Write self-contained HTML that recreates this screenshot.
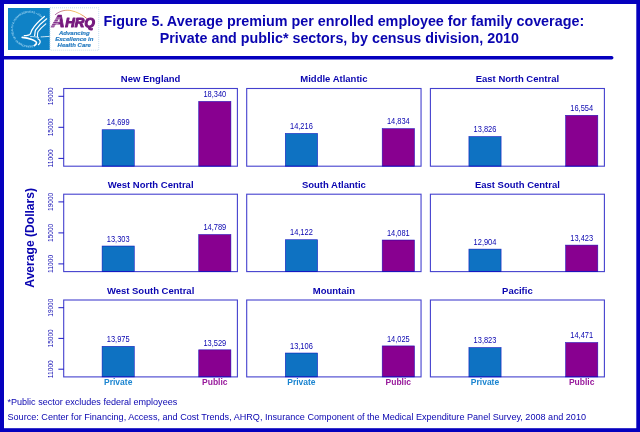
<!DOCTYPE html>
<html lang="en"><head><meta charset="utf-8"><title>Figure 5. Average premium per enrolled employee for family coverage</title>
<style>html,body{margin:0;padding:0;background:#fff;}body{width:640px;height:432px;overflow:hidden;}svg{display:block;font-family:"Liberation Sans",sans-serif;}</style>
</head><body>
<svg width="640" height="432" viewBox="0 0 640 432">
<rect x="0" y="0" width="640" height="432" fill="#0500BE"/>
<rect x="4" y="4" width="632.3" height="424.2" fill="#fff"/>
<path d="M3 56 H611.7 A1.75 1.75 0 0 1 611.7 59.5 H3 Z" fill="#0500BE"/>
<rect x="8" y="8" width="41.8" height="42" fill="#0F82C6"/>
<rect x="50" y="7.8" width="48.7" height="42.4" fill="#fff" stroke="#9CC4E4" stroke-width="0.6" stroke-dasharray="1 1"/>
<g fill="none" stroke="#fff" stroke-linecap="round" stroke-linejoin="round">
<path d="M44.4 16.5 C39.5 20.5 34.5 25.5 32 29.9 C30.8 32 31 33.5 29.8 34.6 C28.5 35.6 26.5 35.4 24.3 35.7" stroke-width="1.3"/>
<path d="M46.7 18.8 C42.5 22 38 26.5 35.7 29.9 C34.6 31.8 35.2 33.6 34.6 35.6" stroke-width="1.25"/>
<path d="M45.8 23.9 C43 26.2 39.8 29.2 38 31.8 C37.2 33.4 37.7 35.2 37.4 36.9" stroke-width="1.1"/>
<path d="M22.2 37.4 C25.5 37.6 29 38.4 31.9 39.6 C34.5 40.6 36.4 41.6 36.5 42.8 C36.6 44 35.4 45 34.2 45.7" stroke-width="1.65"/>
<path d="M37.9 38.7 C39.4 39.6 40.4 40.8 40.2 42 C40 43.2 39.2 44.1 38.4 44.7" stroke-width="1.25"/>
<path d="M41.1 36.9 C43.5 36.8 46 36.6 49.2 36.4" stroke-width="0.8"/>
<path d="M30.5 36.6 C33 36.4 36 37 38.6 37.4" stroke-width="0.8"/>
</g>
<path id="ring" d="M32.9 45.2 A16.4 16.4 0 1 1 41.7 18.2" fill="none"/>
<text font-size="2.8" font-weight="bold" fill="#9AD2F0"><textPath href="#ring" textLength="68" lengthAdjust="spacing">DEPARTMENT OF HEALTH &amp; HUMAN SERVICES • USA</textPath></text>
<defs><linearGradient id="arc" x1="0" x2="1" y1="0" y2="0"><stop offset="0" stop-color="#8A2A8C"/><stop offset="0.45" stop-color="#E89A3A"/><stop offset="0.75" stop-color="#F0C030"/><stop offset="1" stop-color="#D03030"/></linearGradient></defs>
<path d="M55.1 14.8 C60 10.6 66 9.6 71 10.6 C77 11.8 82.5 14.8 86.9 18.6" fill="none" stroke="url(#arc)" stroke-width="0.75"/>
<text x="51.6" y="27.4" font-weight="bold" font-style="italic" fill="#761A7E" stroke="#761A7E" stroke-width="0.75" stroke-linejoin="round"><tspan font-size="17" textLength="13.4" lengthAdjust="spacingAndGlyphs">A</tspan><tspan font-size="12.4" dx="0.3" stroke-width="1.05" textLength="29.4" lengthAdjust="spacingAndGlyphs">HRQ</tspan></text>
<g stroke="#fff" stroke-width="0.55"><path d="M50.6 18.0H60.6M50.6 19.8H59.9M50.6 21.6H59.2M50.6 23.4H58.5M50.6 25.2H57.6M50.6 27H56.8"/></g>
<text x="74.3" y="35.1" font-size="6" font-weight="bold" font-style="italic" fill="#2A7EC2" stroke="#2A7EC2" stroke-width="0.2" text-anchor="middle">Advancing</text>
<text x="74.3" y="41.2" font-size="6" font-weight="bold" font-style="italic" fill="#2A7EC2" stroke="#2A7EC2" stroke-width="0.2" text-anchor="middle">Excellence in</text>
<text x="74.3" y="46.8" font-size="6" font-weight="bold" font-style="italic" fill="#2A7EC2" stroke="#2A7EC2" stroke-width="0.2" text-anchor="middle">Health Care</text>
<text x="103.6" y="25.6" font-size="14.3" font-weight="bold" fill="#0A05B0" textLength="480.6" lengthAdjust="spacingAndGlyphs">Figure 5. Average premium per enrolled employee for family coverage:</text>
<text x="159.75" y="42.6" font-size="14.3" font-weight="bold" fill="#0A05B0" textLength="359.25" lengthAdjust="spacingAndGlyphs">Private and public* sectors, by census division, 2010</text>
<text x="150.6" y="82.3" font-size="9.9" font-weight="bold" fill="#0A05B0" text-anchor="middle" textLength="59.6" lengthAdjust="spacingAndGlyphs">New England</text>
<rect x="102.1" y="129.7" width="32.2" height="36.5" fill="#0E72C2" stroke="#0500BE" stroke-width="0.6" stroke-opacity="0.8"/>
<text x="118.2" y="125.4" font-size="8.5" fill="#0A05B0" text-anchor="middle" textLength="22.8" lengthAdjust="spacingAndGlyphs">14,699</text>
<rect x="198.7" y="101.4" width="32.2" height="64.8" fill="#880090" stroke="#0500BE" stroke-width="0.6" stroke-opacity="0.8"/>
<text x="214.8" y="97.1" font-size="8.5" fill="#0A05B0" text-anchor="middle" textLength="22.8" lengthAdjust="spacingAndGlyphs">18,340</text>
<rect x="63.7" y="88.5" width="173.7" height="77.7" fill="none" stroke="#0500BE" stroke-width="1.1" stroke-opacity="0.75"/>
<path d="M58.4 158.4H63.7" stroke="#0500BE" stroke-width="0.9"/>
<text transform="translate(52.7 158.4) rotate(-90)" font-size="7.6" fill="#0A05B0" text-anchor="middle" textLength="18" lengthAdjust="spacingAndGlyphs">11000</text>
<path d="M58.4 127.3H63.7" stroke="#0500BE" stroke-width="0.9"/>
<text transform="translate(52.7 127.3) rotate(-90)" font-size="7.6" fill="#0A05B0" text-anchor="middle" textLength="18" lengthAdjust="spacingAndGlyphs">15000</text>
<path d="M58.4 96.3H63.7" stroke="#0500BE" stroke-width="0.9"/>
<text transform="translate(52.7 96.3) rotate(-90)" font-size="7.6" fill="#0A05B0" text-anchor="middle" textLength="18" lengthAdjust="spacingAndGlyphs">19000</text>
<text x="333.9" y="82.3" font-size="9.9" font-weight="bold" fill="#0A05B0" text-anchor="middle" textLength="67.2" lengthAdjust="spacingAndGlyphs">Middle Atlantic</text>
<rect x="285.3" y="133.4" width="32.3" height="32.8" fill="#0E72C2" stroke="#0500BE" stroke-width="0.6" stroke-opacity="0.8"/>
<text x="301.4" y="129.1" font-size="8.5" fill="#0A05B0" text-anchor="middle" textLength="22.8" lengthAdjust="spacingAndGlyphs">14,216</text>
<rect x="382.2" y="128.6" width="32.3" height="37.6" fill="#880090" stroke="#0500BE" stroke-width="0.6" stroke-opacity="0.8"/>
<text x="398.3" y="124.3" font-size="8.5" fill="#0A05B0" text-anchor="middle" textLength="22.8" lengthAdjust="spacingAndGlyphs">14,834</text>
<rect x="246.7" y="88.5" width="174.35" height="77.7" fill="none" stroke="#0500BE" stroke-width="1.1" stroke-opacity="0.75"/>
<text x="517.4" y="82.3" font-size="9.9" font-weight="bold" fill="#0A05B0" text-anchor="middle" textLength="83.4" lengthAdjust="spacingAndGlyphs">East North Central</text>
<rect x="468.9" y="136.5" width="32.2" height="29.7" fill="#0E72C2" stroke="#0500BE" stroke-width="0.6" stroke-opacity="0.8"/>
<text x="485.0" y="132.2" font-size="8.5" fill="#0A05B0" text-anchor="middle" textLength="22.8" lengthAdjust="spacingAndGlyphs">13,826</text>
<rect x="565.6" y="115.3" width="32.2" height="50.9" fill="#880090" stroke="#0500BE" stroke-width="0.6" stroke-opacity="0.8"/>
<text x="581.7" y="111.0" font-size="8.5" fill="#0A05B0" text-anchor="middle" textLength="22.8" lengthAdjust="spacingAndGlyphs">16,554</text>
<rect x="430.4" y="88.5" width="174.0" height="77.7" fill="none" stroke="#0500BE" stroke-width="1.1" stroke-opacity="0.75"/>
<text x="150.6" y="188.0" font-size="9.9" font-weight="bold" fill="#0A05B0" text-anchor="middle" textLength="85.9" lengthAdjust="spacingAndGlyphs">West North Central</text>
<rect x="102.1" y="246.0" width="32.2" height="25.6" fill="#0E72C2" stroke="#0500BE" stroke-width="0.6" stroke-opacity="0.8"/>
<text x="118.2" y="241.7" font-size="8.5" fill="#0A05B0" text-anchor="middle" textLength="22.8" lengthAdjust="spacingAndGlyphs">13,303</text>
<rect x="198.7" y="234.5" width="32.2" height="37.1" fill="#880090" stroke="#0500BE" stroke-width="0.6" stroke-opacity="0.8"/>
<text x="214.8" y="230.2" font-size="8.5" fill="#0A05B0" text-anchor="middle" textLength="22.8" lengthAdjust="spacingAndGlyphs">14,789</text>
<rect x="63.7" y="194.2" width="173.7" height="77.4" fill="none" stroke="#0500BE" stroke-width="1.1" stroke-opacity="0.75"/>
<path d="M58.4 263.9H63.7" stroke="#0500BE" stroke-width="0.9"/>
<text transform="translate(52.7 263.9) rotate(-90)" font-size="7.6" fill="#0A05B0" text-anchor="middle" textLength="18" lengthAdjust="spacingAndGlyphs">11000</text>
<path d="M58.4 232.9H63.7" stroke="#0500BE" stroke-width="0.9"/>
<text transform="translate(52.7 232.9) rotate(-90)" font-size="7.6" fill="#0A05B0" text-anchor="middle" textLength="18" lengthAdjust="spacingAndGlyphs">15000</text>
<path d="M58.4 201.9H63.7" stroke="#0500BE" stroke-width="0.9"/>
<text transform="translate(52.7 201.9) rotate(-90)" font-size="7.6" fill="#0A05B0" text-anchor="middle" textLength="18" lengthAdjust="spacingAndGlyphs">19000</text>
<text x="333.9" y="188.0" font-size="9.9" font-weight="bold" fill="#0A05B0" text-anchor="middle" textLength="64.0" lengthAdjust="spacingAndGlyphs">South Atlantic</text>
<rect x="285.3" y="239.7" width="32.3" height="31.9" fill="#0E72C2" stroke="#0500BE" stroke-width="0.6" stroke-opacity="0.8"/>
<text x="301.4" y="235.4" font-size="8.5" fill="#0A05B0" text-anchor="middle" textLength="22.8" lengthAdjust="spacingAndGlyphs">14,122</text>
<rect x="382.2" y="240.0" width="32.3" height="31.6" fill="#880090" stroke="#0500BE" stroke-width="0.6" stroke-opacity="0.8"/>
<text x="398.3" y="235.7" font-size="8.5" fill="#0A05B0" text-anchor="middle" textLength="22.8" lengthAdjust="spacingAndGlyphs">14,081</text>
<rect x="246.7" y="194.2" width="174.35" height="77.4" fill="none" stroke="#0500BE" stroke-width="1.1" stroke-opacity="0.75"/>
<text x="517.4" y="188.0" font-size="9.9" font-weight="bold" fill="#0A05B0" text-anchor="middle" textLength="85.0" lengthAdjust="spacingAndGlyphs">East South Central</text>
<rect x="468.9" y="249.1" width="32.2" height="22.5" fill="#0E72C2" stroke="#0500BE" stroke-width="0.6" stroke-opacity="0.8"/>
<text x="485.0" y="244.8" font-size="8.5" fill="#0A05B0" text-anchor="middle" textLength="22.8" lengthAdjust="spacingAndGlyphs">12,904</text>
<rect x="565.6" y="245.1" width="32.2" height="26.5" fill="#880090" stroke="#0500BE" stroke-width="0.6" stroke-opacity="0.8"/>
<text x="581.7" y="240.8" font-size="8.5" fill="#0A05B0" text-anchor="middle" textLength="22.8" lengthAdjust="spacingAndGlyphs">13,423</text>
<rect x="430.4" y="194.2" width="174.0" height="77.4" fill="none" stroke="#0500BE" stroke-width="1.1" stroke-opacity="0.75"/>
<text x="150.6" y="293.8" font-size="9.9" font-weight="bold" fill="#0A05B0" text-anchor="middle" textLength="87.4" lengthAdjust="spacingAndGlyphs">West South Central</text>
<rect x="102.1" y="346.3" width="32.2" height="30.6" fill="#0E72C2" stroke="#0500BE" stroke-width="0.6" stroke-opacity="0.8"/>
<text x="118.2" y="342.0" font-size="8.5" fill="#0A05B0" text-anchor="middle" textLength="22.8" lengthAdjust="spacingAndGlyphs">13,975</text>
<rect x="198.7" y="349.8" width="32.2" height="27.1" fill="#880090" stroke="#0500BE" stroke-width="0.6" stroke-opacity="0.8"/>
<text x="214.8" y="345.5" font-size="8.5" fill="#0A05B0" text-anchor="middle" textLength="22.8" lengthAdjust="spacingAndGlyphs">13,529</text>
<rect x="63.7" y="300.0" width="173.7" height="76.9" fill="none" stroke="#0500BE" stroke-width="1.1" stroke-opacity="0.75"/>
<path d="M58.4 369.2H63.7" stroke="#0500BE" stroke-width="0.9"/>
<text transform="translate(52.7 369.2) rotate(-90)" font-size="7.6" fill="#0A05B0" text-anchor="middle" textLength="18" lengthAdjust="spacingAndGlyphs">11000</text>
<path d="M58.4 338.4H63.7" stroke="#0500BE" stroke-width="0.9"/>
<text transform="translate(52.7 338.4) rotate(-90)" font-size="7.6" fill="#0A05B0" text-anchor="middle" textLength="18" lengthAdjust="spacingAndGlyphs">15000</text>
<path d="M58.4 307.7H63.7" stroke="#0500BE" stroke-width="0.9"/>
<text transform="translate(52.7 307.7) rotate(-90)" font-size="7.6" fill="#0A05B0" text-anchor="middle" textLength="18" lengthAdjust="spacingAndGlyphs">19000</text>
<text x="118.2" y="385.1" font-size="8.5" font-weight="bold" fill="#1A84D0" text-anchor="middle">Private</text>
<text x="214.8" y="385.1" font-size="8.5" font-weight="bold" fill="#981A9C" text-anchor="middle">Public</text>
<text x="333.9" y="293.8" font-size="9.9" font-weight="bold" fill="#0A05B0" text-anchor="middle" textLength="42.2" lengthAdjust="spacingAndGlyphs">Mountain</text>
<rect x="285.3" y="353.0" width="32.3" height="23.9" fill="#0E72C2" stroke="#0500BE" stroke-width="0.6" stroke-opacity="0.8"/>
<text x="301.4" y="348.7" font-size="8.5" fill="#0A05B0" text-anchor="middle" textLength="22.8" lengthAdjust="spacingAndGlyphs">13,106</text>
<rect x="382.2" y="345.9" width="32.3" height="31.0" fill="#880090" stroke="#0500BE" stroke-width="0.6" stroke-opacity="0.8"/>
<text x="398.3" y="341.6" font-size="8.5" fill="#0A05B0" text-anchor="middle" textLength="22.8" lengthAdjust="spacingAndGlyphs">14,025</text>
<rect x="246.7" y="300.0" width="174.35" height="76.9" fill="none" stroke="#0500BE" stroke-width="1.1" stroke-opacity="0.75"/>
<text x="301.4" y="385.1" font-size="8.5" font-weight="bold" fill="#1A84D0" text-anchor="middle">Private</text>
<text x="398.3" y="385.1" font-size="8.5" font-weight="bold" fill="#981A9C" text-anchor="middle">Public</text>
<text x="517.4" y="293.8" font-size="9.9" font-weight="bold" fill="#0A05B0" text-anchor="middle" textLength="30.6" lengthAdjust="spacingAndGlyphs">Pacific</text>
<rect x="468.9" y="347.5" width="32.2" height="29.4" fill="#0E72C2" stroke="#0500BE" stroke-width="0.6" stroke-opacity="0.8"/>
<text x="485.0" y="343.2" font-size="8.5" fill="#0A05B0" text-anchor="middle" textLength="22.8" lengthAdjust="spacingAndGlyphs">13,823</text>
<rect x="565.6" y="342.5" width="32.2" height="34.4" fill="#880090" stroke="#0500BE" stroke-width="0.6" stroke-opacity="0.8"/>
<text x="581.7" y="338.2" font-size="8.5" fill="#0A05B0" text-anchor="middle" textLength="22.8" lengthAdjust="spacingAndGlyphs">14,471</text>
<rect x="430.4" y="300.0" width="174.0" height="76.9" fill="none" stroke="#0500BE" stroke-width="1.1" stroke-opacity="0.75"/>
<text x="485.0" y="385.1" font-size="8.5" font-weight="bold" fill="#1A84D0" text-anchor="middle">Private</text>
<text x="581.7" y="385.1" font-size="8.5" font-weight="bold" fill="#981A9C" text-anchor="middle">Public</text>
<text transform="translate(33.7 237.8) rotate(-90)" font-size="12.1" font-weight="bold" fill="#0A05B0" text-anchor="middle">Average (Dollars)</text>
<text x="7.5" y="405.4" font-size="9" fill="#0A05B0" textLength="169.7" lengthAdjust="spacingAndGlyphs">*Public sector excludes federal employees</text>
<text x="7.5" y="420.4" font-size="9" fill="#0A05B0" textLength="578.5" lengthAdjust="spacingAndGlyphs">Source: Center for Financing, Access, and Cost Trends, AHRQ, Insurance Component of the Medical Expenditure Panel Survey, 2008 and 2010</text>
</svg></body></html>
